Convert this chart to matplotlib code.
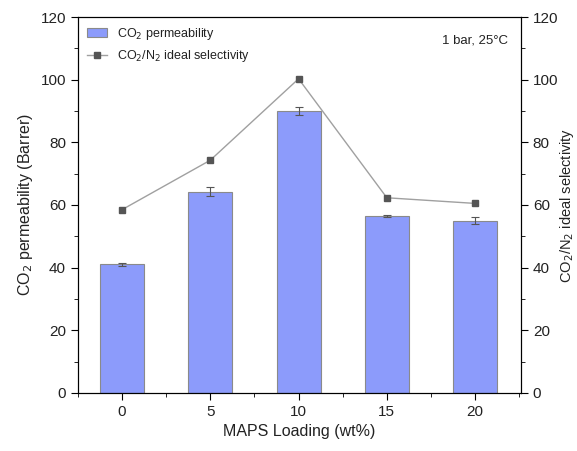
import numpy as np
import matplotlib
matplotlib.use("Agg")
import matplotlib.pyplot as plt
from matplotlib.ticker import MultipleLocator

plt.rcParams['font.family'] = ['Liberation Sans', 'DejaVu Sans']
plt.rcParams['text.color'] = '#222222'

loading = [0, 5, 10, 15, 20]
permeability = [41.0, 64.3, 90.0, 56.5, 55.0]
perm_err = [0.5, 1.3, 1.3, 0.4, 1.2]
selectivity = [58.5, 74.3, 100.3, 62.3, 60.5]

fig = plt.figure(figsize=(5.77, 4.51), dpi=100)
ax = fig.add_axes([0.135, 0.129, 0.768, 0.833])
ax2 = ax.twinx()

bars = ax.bar(loading, permeability, width=2.5, color='#8c9bfb', edgecolor='#8a8a8a',
              linewidth=0.8, yerr=perm_err, capsize=3,
              error_kw=dict(ecolor='#555555', elinewidth=0.8, capthick=0.8),
              label='CO$_2$ permeability', zorder=2)
line, = ax2.plot(loading, selectivity, color='#a0a0a0', linewidth=1,
                 marker='s', markersize=4, markerfacecolor='#555555',
                 markeredgecolor='#555555', label='CO$_2$/N$_2$ ideal selectivity')

for a in (ax, ax2):
    a.set_ylim(0, 120)
    a.yaxis.set_major_locator(MultipleLocator(20))
    a.yaxis.set_minor_locator(MultipleLocator(10))
    a.tick_params(axis='both', which='major', direction='out', length=5, labelsize=11,
                  labelcolor='#222222')
    a.tick_params(axis='both', which='minor', direction='out', length=3)
ax.set_xlim(-2.5, 22.6)
ax.set_xticks(loading)
ax.xaxis.set_minor_locator(MultipleLocator(2.5))

ax.set_xlabel('MAPS Loading (wt%)', fontsize=11.5, color='#222222')
ax.set_ylabel('CO$_2$ permeability (Barrer)', fontsize=11.5, color='#222222')
ax2.set_ylabel('CO$_2$/N$_2$ ideal selectivity', fontsize=10.5, labelpad=0,
               color='#222222')

ax.legend([bars, line], [bars.get_label(), line.get_label()], loc='upper left',
          frameon=False, fontsize=9, handlelength=1.6, borderaxespad=0.3)
ax.text(0.97, 0.955, '1 bar, 25\u00b0C', transform=ax.transAxes, ha='right', va='top',
        fontsize=9.5)

fig.savefig('out.png', dpi=100)
